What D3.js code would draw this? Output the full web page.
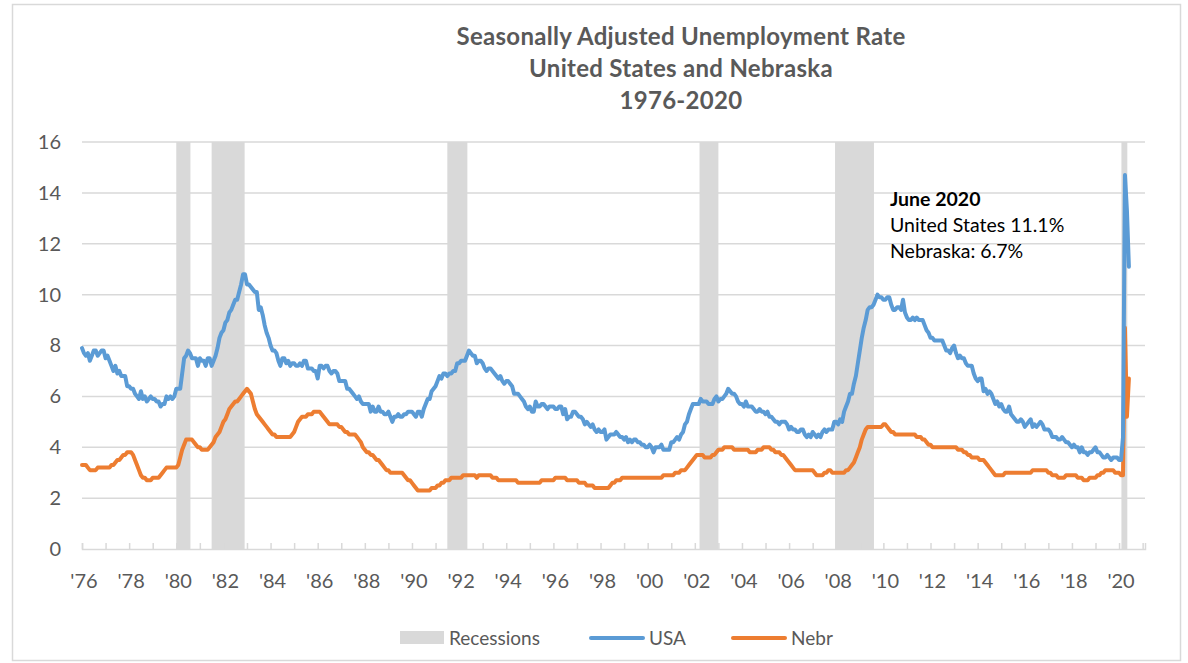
<!DOCTYPE html>
<html>
<head>
<meta charset="utf-8">
<script src="https://cdn.jsdelivr.net/npm/d3@7"></script>
<style>
  body { margin: 0; background: #fff; }
  svg { font-family: Lato, "Open Sans", sans-serif; }
</style>
</head>
<body>
<div id="chart"></div>
<script>
// monthly, seasonally adjusted, Jan 1976 - Jun 2020
var startYear = 1976;

var usaRate = [
  7.9, 7.7, 7.6, 7.7, 7.4, 7.6, 7.8, 7.8, 7.6, 7.7, 7.8, 7.8,   // 1976
  7.5, 7.6, 7.4, 7.2, 7.0, 7.2, 6.9, 7.0, 6.8, 6.8, 6.8, 6.4,   // 1977
  6.4, 6.3, 6.3, 6.1, 6.0, 5.9, 6.2, 5.9, 6.0, 5.8, 5.9, 6.0,   // 1978
  5.9, 5.9, 5.8, 5.8, 5.6, 5.7, 5.7, 6.0, 5.9, 6.0, 5.9, 6.0,   // 1979
  6.3, 6.3, 6.3, 6.9, 7.5, 7.6, 7.8, 7.7, 7.5, 7.5, 7.5, 7.2,   // 1980
  7.5, 7.4, 7.4, 7.2, 7.5, 7.5, 7.2, 7.4, 7.6, 7.9, 8.3, 8.5,   // 1981
  8.6, 8.9, 9.0, 9.3, 9.4, 9.6, 9.8, 9.8, 10.1, 10.4, 10.8, 10.8, // 1982
  10.4, 10.4, 10.3, 10.2, 10.1, 10.1, 9.4, 9.5, 9.2, 8.8, 8.5, 8.3, // 1983
  8.0, 7.8, 7.8, 7.7, 7.4, 7.2, 7.5, 7.5, 7.3, 7.4, 7.2, 7.3,   // 1984
  7.3, 7.2, 7.2, 7.3, 7.2, 7.4, 7.4, 7.1, 7.1, 7.1, 7.0, 7.0,   // 1985
  6.7, 7.2, 7.2, 7.1, 7.2, 7.2, 7.0, 6.9, 7.0, 7.0, 6.9, 6.6,   // 1986
  6.6, 6.6, 6.6, 6.3, 6.3, 6.2, 6.1, 6.0, 5.9, 6.0, 5.8, 5.7,   // 1987
  5.7, 5.7, 5.7, 5.4, 5.6, 5.4, 5.4, 5.6, 5.4, 5.4, 5.3, 5.3,   // 1988
  5.4, 5.2, 5.0, 5.2, 5.2, 5.3, 5.2, 5.2, 5.3, 5.3, 5.4, 5.4,   // 1989
  5.4, 5.3, 5.2, 5.4, 5.4, 5.2, 5.5, 5.7, 5.9, 5.9, 6.2, 6.3,   // 1990
  6.4, 6.6, 6.8, 6.7, 6.9, 6.9, 6.8, 6.9, 6.9, 7.0, 7.0, 7.3,   // 1991
  7.3, 7.4, 7.4, 7.4, 7.6, 7.8, 7.7, 7.6, 7.6, 7.3, 7.4, 7.4,   // 1992
  7.3, 7.1, 7.0, 7.1, 7.1, 7.0, 6.9, 6.8, 6.7, 6.8, 6.6, 6.5,   // 1993
  6.6, 6.6, 6.5, 6.4, 6.1, 6.1, 6.1, 6.0, 5.9, 5.8, 5.6, 5.5,   // 1994
  5.6, 5.4, 5.4, 5.8, 5.6, 5.6, 5.7, 5.7, 5.6, 5.5, 5.6, 5.6,   // 1995
  5.6, 5.5, 5.5, 5.6, 5.6, 5.3, 5.5, 5.1, 5.2, 5.2, 5.4, 5.4,   // 1996
  5.3, 5.2, 5.2, 5.1, 4.9, 5.0, 4.9, 4.8, 4.9, 4.7, 4.6, 4.7,   // 1997
  4.6, 4.6, 4.7, 4.3, 4.4, 4.5, 4.5, 4.5, 4.6, 4.5, 4.4, 4.4,   // 1998
  4.3, 4.4, 4.2, 4.3, 4.2, 4.3, 4.3, 4.2, 4.2, 4.1, 4.1, 4.0,   // 1999
  4.0, 4.1, 4.0, 3.8, 4.0, 4.0, 4.0, 4.1, 3.9, 3.9, 3.9, 3.9,   // 2000
  4.2, 4.2, 4.3, 4.4, 4.3, 4.5, 4.6, 4.9, 5.0, 5.3, 5.5, 5.7,   // 2001
  5.7, 5.7, 5.7, 5.9, 5.8, 5.8, 5.8, 5.7, 5.7, 5.7, 5.9, 6.0,   // 2002
  5.8, 5.9, 5.9, 6.0, 6.1, 6.3, 6.2, 6.1, 6.1, 6.0, 5.8, 5.7,   // 2003
  5.7, 5.6, 5.8, 5.6, 5.6, 5.6, 5.5, 5.4, 5.4, 5.5, 5.4, 5.4,   // 2004
  5.3, 5.4, 5.2, 5.2, 5.1, 5.0, 5.0, 4.9, 5.0, 5.0, 5.0, 4.9,   // 2005
  4.7, 4.8, 4.7, 4.7, 4.6, 4.6, 4.7, 4.7, 4.5, 4.4, 4.5, 4.4,   // 2006
  4.6, 4.5, 4.4, 4.5, 4.4, 4.6, 4.7, 4.6, 4.7, 4.7, 4.7, 5.0,   // 2007
  5.0, 4.9, 5.1, 5.0, 5.4, 5.6, 5.8, 6.1, 6.1, 6.5, 6.8, 7.3,   // 2008
  7.8, 8.3, 8.7, 9.0, 9.4, 9.5, 9.5, 9.6, 9.8, 10.0, 9.9, 9.9,  // 2009
  9.8, 9.8, 9.9, 9.9, 9.6, 9.4, 9.4, 9.5, 9.5, 9.4, 9.8, 9.3,   // 2010
  9.1, 9.0, 9.0, 9.1, 9.0, 9.1, 9.0, 9.0, 9.0, 8.8, 8.6, 8.5,   // 2011
  8.3, 8.3, 8.2, 8.2, 8.2, 8.2, 8.2, 8.0, 7.8, 7.8, 7.7, 7.9,   // 2012
  8.0, 7.7, 7.5, 7.6, 7.5, 7.5, 7.3, 7.2, 7.2, 7.2, 6.9, 6.7,   // 2013
  6.6, 6.7, 6.7, 6.2, 6.3, 6.1, 6.2, 6.1, 5.9, 5.7, 5.8, 5.6,   // 2014
  5.7, 5.5, 5.4, 5.4, 5.6, 5.3, 5.2, 5.1, 5.0, 5.0, 5.1, 5.0,   // 2015
  4.8, 4.9, 5.0, 5.1, 4.8, 4.9, 4.8, 4.9, 5.0, 4.9, 4.7, 4.7,   // 2016
  4.7, 4.6, 4.4, 4.4, 4.4, 4.3, 4.3, 4.4, 4.3, 4.2, 4.2, 4.1,   // 2017
  4.0, 4.1, 4.0, 4.0, 3.8, 4.0, 3.8, 3.8, 3.7, 3.8, 3.8, 3.9,   // 2018
  4.0, 3.8, 3.8, 3.7, 3.6, 3.6, 3.7, 3.6, 3.5, 3.6, 3.6, 3.6,   // 2019
  3.5, 3.5, 4.4, 14.7, 13.3, 11.1                               // 2020
];

var nebrRate = [
  3.3, 3.3, 3.3, 3.2, 3.1, 3.1, 3.1, 3.1, 3.2, 3.2, 3.2, 3.2,   // 1976
  3.2, 3.2, 3.2, 3.3, 3.3, 3.4, 3.5, 3.5, 3.6, 3.7, 3.7, 3.8,   // 1977
  3.8, 3.8, 3.7, 3.5, 3.3, 3.1, 2.9, 2.8, 2.8, 2.7, 2.7, 2.7,   // 1978
  2.8, 2.8, 2.8, 2.8, 2.9, 3.0, 3.1, 3.2, 3.2, 3.2, 3.2, 3.2,   // 1979
  3.2, 3.3, 3.6, 3.9, 4.1, 4.3, 4.3, 4.3, 4.3, 4.2, 4.1, 4.0,   // 1980
  4.0, 3.9, 3.9, 3.9, 3.9, 4.0, 4.1, 4.2, 4.4, 4.5, 4.6, 4.8,   // 1981
  5.0, 5.1, 5.3, 5.5, 5.6, 5.7, 5.8, 5.8, 5.9, 6.0, 6.1, 6.2,   // 1982
  6.3, 6.2, 6.1, 5.8, 5.5, 5.3, 5.2, 5.1, 5.0, 4.9, 4.8, 4.7,   // 1983
  4.6, 4.5, 4.5, 4.4, 4.4, 4.4, 4.4, 4.4, 4.4, 4.4, 4.4, 4.5,   // 1984
  4.6, 4.8, 5.0, 5.1, 5.2, 5.2, 5.2, 5.3, 5.3, 5.3, 5.4, 5.4,   // 1985
  5.4, 5.4, 5.3, 5.2, 5.1, 5.0, 4.9, 4.9, 4.9, 4.9, 4.9, 4.8,   // 1986
  4.8, 4.7, 4.6, 4.6, 4.5, 4.5, 4.5, 4.5, 4.4, 4.3, 4.2, 4.0,   // 1987
  3.9, 3.8, 3.8, 3.7, 3.7, 3.6, 3.5, 3.5, 3.4, 3.3, 3.2, 3.1,   // 1988
  3.1, 3.0, 3.0, 3.0, 3.0, 3.0, 3.0, 3.0, 2.9, 2.8, 2.7, 2.7,   // 1989
  2.6, 2.5, 2.4, 2.3, 2.3, 2.3, 2.3, 2.3, 2.3, 2.3, 2.4, 2.4,   // 1990
  2.4, 2.5, 2.5, 2.6, 2.6, 2.7, 2.7, 2.7, 2.8, 2.8, 2.8, 2.8,   // 1991
  2.8, 2.8, 2.9, 2.9, 2.9, 2.9, 2.9, 2.9, 2.9, 2.8, 2.9, 2.9,   // 1992
  2.9, 2.9, 2.9, 2.9, 2.9, 2.8, 2.8, 2.8, 2.7, 2.7, 2.7, 2.7,   // 1993
  2.7, 2.7, 2.7, 2.7, 2.7, 2.7, 2.6, 2.6, 2.6, 2.6, 2.6, 2.6,   // 1994
  2.6, 2.6, 2.6, 2.6, 2.6, 2.6, 2.7, 2.7, 2.7, 2.7, 2.7, 2.7,   // 1995
  2.7, 2.8, 2.8, 2.8, 2.8, 2.8, 2.8, 2.7, 2.7, 2.7, 2.7, 2.7,   // 1996
  2.7, 2.6, 2.6, 2.6, 2.6, 2.5, 2.5, 2.5, 2.5, 2.4, 2.4, 2.4,   // 1997
  2.4, 2.4, 2.4, 2.4, 2.4, 2.5, 2.6, 2.6, 2.7, 2.7, 2.7, 2.8,   // 1998
  2.8, 2.8, 2.8, 2.8, 2.8, 2.8, 2.8, 2.8, 2.8, 2.8, 2.8, 2.8,   // 1999
  2.8, 2.8, 2.8, 2.8, 2.8, 2.8, 2.8, 2.8, 2.9, 2.9, 2.9, 2.9,   // 2000
  2.9, 2.9, 3.0, 3.0, 3.0, 3.1, 3.1, 3.1, 3.2, 3.3, 3.4, 3.5,   // 2001
  3.6, 3.7, 3.7, 3.7, 3.7, 3.6, 3.6, 3.6, 3.6, 3.7, 3.7, 3.8,   // 2002
  3.9, 3.9, 3.9, 4.0, 4.0, 4.0, 4.0, 4.0, 3.9, 3.9, 3.9, 3.9,   // 2003
  3.9, 3.9, 3.9, 3.9, 3.8, 3.8, 3.8, 3.8, 3.9, 3.9, 3.9, 4.0,   // 2004
  4.0, 4.0, 4.0, 3.9, 3.9, 3.8, 3.8, 3.8, 3.7, 3.7, 3.6, 3.5,   // 2005
  3.4, 3.3, 3.2, 3.1, 3.1, 3.1, 3.1, 3.1, 3.1, 3.1, 3.1, 3.1,   // 2006
  3.1, 3.0, 2.9, 2.9, 2.9, 2.9, 3.0, 3.0, 3.1, 3.1, 3.0, 3.0,   // 2007
  3.0, 3.0, 3.0, 3.0, 3.0, 3.1, 3.1, 3.2, 3.3, 3.4, 3.6, 3.8,   // 2008
  4.0, 4.3, 4.5, 4.7, 4.8, 4.8, 4.8, 4.8, 4.8, 4.8, 4.8, 4.8,   // 2009
  4.9, 4.9, 4.8, 4.7, 4.6, 4.6, 4.5, 4.5, 4.5, 4.5, 4.5, 4.5,   // 2010
  4.5, 4.5, 4.5, 4.5, 4.5, 4.4, 4.4, 4.4, 4.3, 4.3, 4.2, 4.1,   // 2011
  4.1, 4.0, 4.0, 4.0, 4.0, 4.0, 4.0, 4.0, 4.0, 4.0, 4.0, 4.0,   // 2012
  4.0, 4.0, 3.9, 3.9, 3.9, 3.8, 3.8, 3.7, 3.7, 3.6, 3.6, 3.6,   // 2013
  3.6, 3.5, 3.5, 3.5, 3.4, 3.3, 3.2, 3.1, 3.0, 2.9, 2.9, 2.9,   // 2014
  2.9, 2.9, 3.0, 3.0, 3.0, 3.0, 3.0, 3.0, 3.0, 3.0, 3.0, 3.0,   // 2015
  3.0, 3.0, 3.0, 3.0, 3.1, 3.1, 3.1, 3.1, 3.1, 3.1, 3.1, 3.1,   // 2016
  3.0, 3.0, 2.9, 2.9, 2.9, 2.8, 2.8, 2.8, 2.8, 2.9, 2.9, 2.9,   // 2017
  2.9, 2.9, 2.9, 2.8, 2.8, 2.8, 2.7, 2.7, 2.7, 2.8, 2.8, 2.8,   // 2018
  2.8, 2.9, 2.9, 3.0, 3.0, 3.1, 3.1, 3.1, 3.1, 3.1, 3.0, 3.0,   // 2019
  3.0, 2.9, 2.9, 8.7, 5.2, 6.7                                  // 2020
];

// recession bands as drawn (decimal years)
var recessionStart = [1980.0, 1981.5, 1991.5, 2002.2, 2007.95, 2020.1];
var recessionEnd   = [1980.6, 1982.9, 1992.35, 2003.0, 2009.6, 2020.35];

var yTicks = [0, 2, 4, 6, 8, 10, 12, 14, 16];
var xLabelYears = d3.range(1976, 2021, 2);
var xTickYears = d3.range(1976, 2022, 1);

var titleLines = ["Seasonally Adjusted Unemployment Rate", "United States and Nebraska", "1976-2020"];
var noteLines = ["June 2020", "United States 11.1%", "Nebraska: 6.7%"];

var W = 1188, H = 663;
var margin = {top: 142, right: 43, bottom: 114, left: 82};
var width = W - margin.left - margin.right,
    height = H - margin.top - margin.bottom;

var svg = d3.select("#chart").append("svg")
  .attr("width", W)
  .attr("height", H);

// chart area border
svg.append("rect")
  .attr("x", 12.5).attr("y", 4.5)
  .attr("width", 1168).attr("height", 656)
  .attr("fill", "none")
  .attr("stroke", "#D9D9D9")
  .attr("stroke-width", 1.5);

var g = svg.append("g")
  .attr("transform", `translate(${margin.left}, ${margin.top})`);

var x = d3.scaleLinear().domain([1976, 2021.1]).range([0, width]);
var y = d3.scaleLinear().domain([0, 16]).range([height, 0]);

// gridlines
g.append("g")
  .selectAll("line")
  .data(yTicks.filter(d => d > 0))
  .enter().append("line")
    .attr("x1", 0).attr("x2", width)
    .attr("y1", d => y(d)).attr("y2", d => y(d))
    .attr("stroke", "#D9D9D9")
    .attr("stroke-width", 1.5);

// recessions
g.append("g")
  .selectAll("rect")
  .data(recessionStart)
  .enter().append("rect")
    .attr("x", d => x(d))
    .attr("width", (d, i) => x(recessionEnd[i]) - x(d))
    .attr("y", 0)
    .attr("height", height)
    .attr("fill", "#D9D9D9");

// y axis labels
var yAxis = g.append("g")
  .call(d3.axisLeft(y).tickValues(yTicks).tickSize(0).tickPadding(21));
yAxis.select(".domain").remove();
yAxis.selectAll("text")
  .attr("font-family", "Lato, 'Open Sans', sans-serif")
  .attr("font-size", 20)
  .attr("fill", "#595959");

// x axis: yearly ticks, labels every 2 years
var xAxis = g.append("g")
  .attr("transform", `translate(0, ${height})`)
  .call(d3.axisBottom(x).tickValues(xTickYears).tickSize(-6).tickFormat(""));
xAxis.select(".domain").attr("stroke", "#D9D9D9").attr("stroke-width", 1.5);
xAxis.selectAll(".tick line").attr("stroke", "#D9D9D9").attr("stroke-width", 1.5);

g.append("g")
  .selectAll("text")
  .data(xLabelYears)
  .enter().append("text")
    .attr("x", d => x(d) + 2)
    .attr("y", height + 39)
    .attr("text-anchor", "middle")
    .attr("font-size", 20)
    .attr("fill", "#595959")
    .text(d => "'" + String(d).slice(2));

// lines
var line = d3.line()
  .x((d, i) => x(startYear + i / 12))
  .y(d => y(d));

g.append("path")
  .datum(nebrRate)
  .attr("d", line)
  .attr("fill", "none")
  .attr("stroke", "#ED7D31")
  .attr("stroke-width", 4)
  .attr("stroke-linejoin", "round")
  .attr("stroke-linecap", "round");

g.append("path")
  .datum(usaRate)
  .attr("d", line)
  .attr("fill", "none")
  .attr("stroke", "#5B9BD5")
  .attr("stroke-width", 4)
  .attr("stroke-linejoin", "round")
  .attr("stroke-linecap", "round");

// title
svg.append("g")
  .selectAll("text")
  .data(titleLines)
  .enter().append("text")
    .attr("x", 681)
    .attr("y", (d, i) => 45 + i * 32)
    .attr("text-anchor", "middle")
    .attr("font-size", 24)
    .attr("letter-spacing", 0.3)
    .attr("font-weight", "bold")
    .attr("fill", "#595959")
    .text(d => d);

// annotation
svg.append("g")
  .selectAll("text")
  .data(noteLines)
  .enter().append("text")
    .attr("x", 890)
    .attr("y", (d, i) => 206 + i * 26)
    .attr("font-size", 19.5)
    .attr("font-weight", (d, i) => i === 0 ? "bold" : "normal")
    .attr("fill", "#000")
    .text(d => d);

// legend
var legend = svg.append("g").attr("font-size", 19).attr("fill", "#595959");
legend.append("rect")
  .attr("x", 400).attr("y", 631).attr("width", 44).attr("height", 13)
  .attr("fill", "#D9D9D9");
legend.append("text").attr("x", 449).attr("y", 645).text("Recessions");
legend.append("line")
  .attr("x1", 591).attr("x2", 643).attr("y1", 638).attr("y2", 638)
  .attr("stroke", "#5B9BD5").attr("stroke-width", 4).attr("stroke-linecap", "round");
legend.append("text").attr("x", 649).attr("y", 645).text("USA");
legend.append("line")
  .attr("x1", 733).attr("x2", 785).attr("y1", 638).attr("y2", 638)
  .attr("stroke", "#ED7D31").attr("stroke-width", 4).attr("stroke-linecap", "round");
legend.append("text").attr("x", 791).attr("y", 645).text("Nebr");
</script>
</body>
</html>
